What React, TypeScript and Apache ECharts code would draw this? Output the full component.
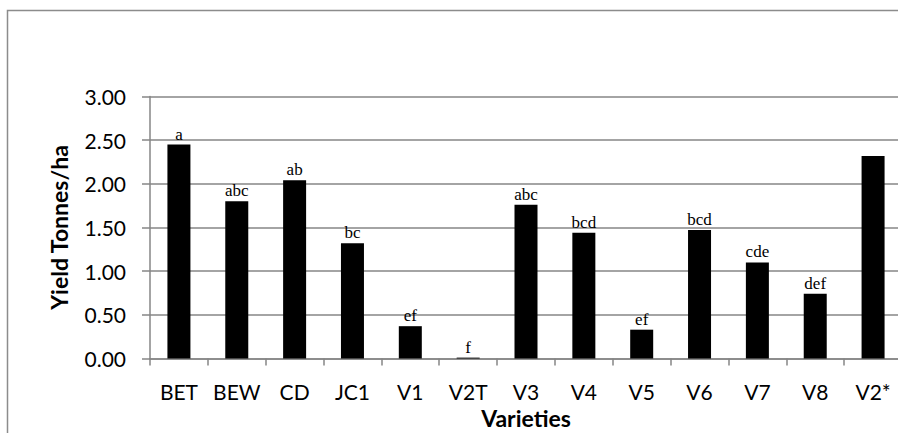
import React, { useEffect, useRef } from "react";
import * as echarts from "echarts";

const categories = ["BET", "BEW", "CD", "JC1", "V1", "V2T", "V3", "V4", "V5", "V6", "V7", "V8", "V2*"];
const yields = [2.45, 1.8, 2.04, 1.32, 0.37, 0.01, 1.76, 1.44, 0.33, 1.47, 1.1, 0.74, 2.32];
const letters = ["a", "abc", "ab", "bc", "ef", "f", "abc", "bcd", "ef", "bcd", "cde", "def", ""];
const yTicks = [0, 0.5, 1, 1.5, 2, 2.5, 3];

export default function App() {
  const ref = useRef<HTMLDivElement>(null);
  useEffect(() => {
    if (!ref.current) return;
    const chart = echarts.init(ref.current, null, { renderer: "svg" });
    const sans = "Lato, 'Open Sans', sans-serif";
    chart.setOption({
      animation: false,
      backgroundColor: "#ffffff",
      graphic: [
        {
          type: "rect",
          shape: { x: 7.5, y: 10.5, width: 900, height: 430 },
          style: { fill: "none", stroke: "#8c8c8c", lineWidth: 1.5 },
          silent: true,
          z: -1,
        },
      ],
      grid: {
        left: 150,
        width: 752,
        top: 96.5,
        height: 262,
        containLabel: false,
        outerBoundsMode: "none",
      },
      xAxis: {
        type: "category",
        data: categories,
        name: "Varieties",
        nameLocation: "middle",
        nameGap: 48,
        nameMoveOverlap: false,
        nameTextStyle: { fontFamily: sans, fontWeight: "bold", fontSize: 23, color: "#000" },
        axisLine: { lineStyle: { color: "#868686", width: 1.5 } },
        axisTick: { show: true, length: 7, lineStyle: { color: "#868686", width: 1.5 } },
        axisLabel: { fontFamily: sans, fontSize: 21, color: "#000", margin: 22, interval: 0 },
      },
      yAxis: {
        type: "value",
        min: 0,
        max: 3,
        interval: 0.5,
        name: "Yield Tonnes/ha",
        nameLocation: "middle",
        nameGap: 80,
        nameMoveOverlap: false,
        nameRotate: 90,
        nameTextStyle: { fontFamily: sans, fontWeight: "bold", fontSize: 23, color: "#000" },
        axisLine: { show: true, lineStyle: { color: "#868686", width: 1.5 } },
        axisTick: { show: true, length: 8, lineStyle: { color: "#868686", width: 1.5 } },
        axisLabel: {
          fontFamily: sans,
          fontSize: 21,
          color: "#000",
          margin: 24,
          formatter: (v: number) => (yTicks.includes(v) ? v.toFixed(2) : ""),
        },
        splitLine: { show: true, lineStyle: { color: "#868686", width: 1.5 } },
      },
      series: [
        {
          type: "bar",
          data: yields.map((v, i) => ({
            value: v,
            label: { show: letters[i] !== "", formatter: letters[i] },
          })),
          barWidth: 23,
          itemStyle: { color: "#000" },
          label: {
            show: true,
            position: "top",
            distance: 2,
            fontFamily: "'Liberation Serif', 'Times New Roman', serif",
            fontSize: 17,
            color: "#000",
          },
        },
      ],
    });
    return () => chart.dispose();
  }, []);
  return (
    <div
      ref={ref}
      style={{ position: "fixed", left: 0, top: 0, width: 898, height: 433 }}
    />
  );
}
